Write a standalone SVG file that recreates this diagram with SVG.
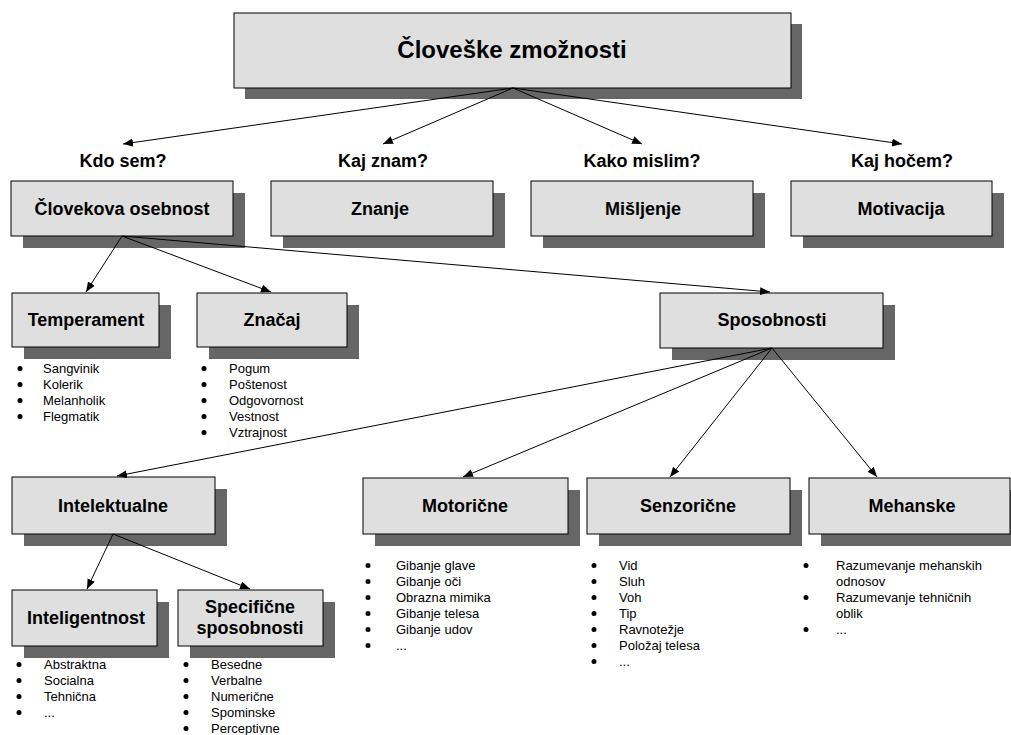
<svg xmlns="http://www.w3.org/2000/svg" width="1011" height="735" viewBox="0 0 1011 735">
  <style>
    .box { fill: #dfdfdf; stroke: #000; stroke-width: 1; }
    .shadow { fill: #666666; }
    .title { font-family: "Liberation Sans", Arial, sans-serif; font-weight: bold; font-size: 24px; text-anchor: middle; fill: #000; }
    .lbl { font-family: "Liberation Sans", Arial, sans-serif; font-weight: bold; font-size: 18px; text-anchor: middle; fill: #000; }
    .item { font-family: "Liberation Sans", Arial, sans-serif; font-size: 13px; fill: #000; }
    .dot { fill: #000; }
    .edge { stroke: #000; stroke-width: 1; fill: none; marker-end: url(#arrow); }
  </style>
  <defs>
    <marker id="arrow" markerWidth="11" markerHeight="9" refX="10" refY="4" orient="auto" markerUnits="userSpaceOnUse">
      <path d="M0,0 L10,4 L0,8 z" fill="#000"/>
    </marker>
  </defs>
  <rect width="1011" height="735" fill="#fff"/>

  <!-- question labels -->
  <g id="questions">
    <text class="lbl" x="123" y="167">Kdo sem?</text>
    <text class="lbl" x="383" y="167">Kaj znam?</text>
    <text class="lbl" x="642" y="167">Kako mislim?</text>
    <text class="lbl" x="902" y="167">Kaj hočem?</text>
  </g>

  <g id="n-zmoznosti">
    <rect class="shadow" x="245" y="24" width="557" height="75"/>
    <rect class="box" x="234" y="13" width="557" height="75"/>
    <text class="title" x="512" y="58">Človeške zmožnosti</text>
  </g>

  <g id="n-osebnost">
    <rect class="shadow" x="23" y="193" width="222" height="55"/>
    <rect class="box" x="11" y="181" width="222" height="55"/>
    <text class="lbl" x="122" y="215">Človekova osebnost</text>
  </g>
  <g id="n-znanje">
    <rect class="shadow" x="283" y="193" width="222" height="55"/>
    <rect class="box" x="271" y="181" width="222" height="55"/>
    <text class="lbl" x="380" y="215">Znanje</text>
  </g>
  <g id="n-misljenje">
    <rect class="shadow" x="543" y="193" width="222" height="55"/>
    <rect class="box" x="531" y="181" width="222" height="55"/>
    <text class="lbl" x="643" y="215">Mišljenje</text>
  </g>
  <g id="n-motivacija">
    <rect class="shadow" x="803" y="193" width="201" height="55"/>
    <rect class="box" x="791" y="181" width="201" height="55"/>
    <text class="lbl" x="901" y="215">Motivacija</text>
  </g>

  <g id="n-temperament">
    <rect class="shadow" x="24" y="305" width="147" height="54"/>
    <rect class="box" x="12" y="293" width="147" height="54"/>
    <text class="lbl" x="86" y="326">Temperament</text>
    <g class="item">
      <circle class="dot" cx="20" cy="368.5" r="2.5"/><text x="43" y="373">Sangvinik</text>
      <circle class="dot" cx="20" cy="384.5" r="2.5"/><text x="43" y="389">Kolerik</text>
      <circle class="dot" cx="20" cy="400.5" r="2.5"/><text x="43" y="405">Melanholik</text>
      <circle class="dot" cx="20" cy="416.5" r="2.5"/><text x="43" y="421">Flegmatik</text>
    </g>
  </g>

  <g id="n-znacaj">
    <rect class="shadow" x="209" y="305" width="150" height="54"/>
    <rect class="box" x="197" y="293" width="150" height="54"/>
    <text class="lbl" x="272" y="326">Značaj</text>
    <g class="item">
      <circle class="dot" cx="204" cy="368.5" r="2.5"/><text x="229" y="373">Pogum</text>
      <circle class="dot" cx="204" cy="384.5" r="2.5"/><text x="229" y="389">Poštenost</text>
      <circle class="dot" cx="204" cy="400.5" r="2.5"/><text x="229" y="405">Odgovornost</text>
      <circle class="dot" cx="204" cy="416.5" r="2.5"/><text x="229" y="421">Vestnost</text>
      <circle class="dot" cx="204" cy="432.5" r="2.5"/><text x="229" y="437">Vztrajnost</text>
    </g>
  </g>

  <g id="n-sposobnosti">
    <rect class="shadow" x="672" y="305" width="223" height="55"/>
    <rect class="box" x="660" y="293" width="223" height="55"/>
    <text class="lbl" x="772" y="326">Sposobnosti</text>
  </g>

  <g id="n-intelektualne">
    <rect class="shadow" x="24" y="489" width="203" height="57"/>
    <rect class="box" x="12" y="477" width="203" height="57"/>
    <text class="lbl" x="113" y="512">Intelektualne</text>
  </g>

  <g id="n-motoricne">
    <rect class="shadow" x="375" y="490" width="205" height="56"/>
    <rect class="box" x="363" y="478" width="205" height="56"/>
    <text class="lbl" x="465" y="512">Motorične</text>
    <g class="item">
      <circle class="dot" cx="368" cy="565.5" r="2.5"/><text x="396" y="570">Gibanje glave</text>
      <circle class="dot" cx="368" cy="581.5" r="2.5"/><text x="396" y="586">Gibanje oči</text>
      <circle class="dot" cx="368" cy="597.5" r="2.5"/><text x="396" y="602">Obrazna mimika</text>
      <circle class="dot" cx="368" cy="613.5" r="2.5"/><text x="396" y="618">Gibanje telesa</text>
      <circle class="dot" cx="368" cy="629.5" r="2.5"/><text x="396" y="634">Gibanje udov</text>
      <circle class="dot" cx="368" cy="645.5" r="2.5"/><text x="396" y="650">...</text>
    </g>
  </g>

  <g id="n-senzoricne">
    <rect class="shadow" x="599" y="490" width="203" height="56"/>
    <rect class="box" x="587" y="478" width="203" height="56"/>
    <text class="lbl" x="688" y="512">Senzorične</text>
    <g class="item">
      <circle class="dot" cx="594" cy="565.5" r="2.5"/><text x="619" y="570">Vid</text>
      <circle class="dot" cx="594" cy="581.5" r="2.5"/><text x="619" y="586">Sluh</text>
      <circle class="dot" cx="594" cy="597.5" r="2.5"/><text x="619" y="602">Voh</text>
      <circle class="dot" cx="594" cy="613.5" r="2.5"/><text x="619" y="618">Tip</text>
      <circle class="dot" cx="594" cy="629.5" r="2.5"/><text x="619" y="634">Ravnotežje</text>
      <circle class="dot" cx="594" cy="645.5" r="2.5"/><text x="619" y="650">Položaj telesa</text>
      <circle class="dot" cx="594" cy="661.5" r="2.5"/><text x="619" y="666">...</text>
    </g>
  </g>

  <g id="n-mehanske">
    <rect class="shadow" x="821" y="490" width="201" height="56"/>
    <rect class="box" x="809" y="478" width="201" height="56"/>
    <text class="lbl" x="912" y="512">Mehanske</text>
    <g class="item">
      <circle class="dot" cx="806" cy="565.5" r="2.5"/><text x="836" y="570">Razumevanje mehanskih</text>
      <text x="836" y="586">odnosov</text>
      <circle class="dot" cx="806" cy="597.5" r="2.5"/><text x="836" y="602">Razumevanje tehničnih</text>
      <text x="836" y="618">oblik</text>
      <circle class="dot" cx="806" cy="629.5" r="2.5"/><text x="836" y="634">...</text>
    </g>
  </g>

  <g id="n-inteligentnost">
    <rect class="shadow" x="24" y="602" width="145" height="56"/>
    <rect class="box" x="12" y="590" width="145" height="56"/>
    <text class="lbl" x="86" y="624">Inteligentnost</text>
    <g class="item">
      <circle class="dot" cx="19" cy="664.5" r="2.5"/><text x="44" y="669">Abstraktna</text>
      <circle class="dot" cx="19" cy="680.5" r="2.5"/><text x="44" y="685">Socialna</text>
      <circle class="dot" cx="19" cy="696.5" r="2.5"/><text x="44" y="701">Tehnična</text>
      <circle class="dot" cx="19" cy="712.5" r="2.5"/><text x="44" y="717">...</text>
    </g>
  </g>

  <g id="n-specificne">
    <rect class="shadow" x="190" y="602" width="145" height="56"/>
    <rect class="box" x="178" y="590" width="145" height="56"/>
    <text class="lbl" x="250" y="613">Specifične</text>
    <text class="lbl" x="250" y="634">sposobnosti</text>
    <g class="item">
      <circle class="dot" cx="186" cy="664.5" r="2.5"/><text x="211" y="669">Besedne</text>
      <circle class="dot" cx="186" cy="680.5" r="2.5"/><text x="211" y="685">Verbalne</text>
      <circle class="dot" cx="186" cy="696.5" r="2.5"/><text x="211" y="701">Numerične</text>
      <circle class="dot" cx="186" cy="712.5" r="2.5"/><text x="211" y="717">Spominske</text>
      <circle class="dot" cx="186" cy="728.5" r="2.5"/><text x="211" y="733">Perceptivne</text>
    </g>
  </g>

  <!-- connectors, drawn last so they run over the drop shadows -->
  <g id="connectors">
    <line class="edge" x1="513" y1="88" x2="123" y2="144"/>
    <line class="edge" x1="513" y1="88" x2="383" y2="144"/>
    <line class="edge" x1="513" y1="88" x2="642" y2="144"/>
    <line class="edge" x1="513" y1="88" x2="902" y2="144"/>
    <line class="edge" x1="122" y1="236" x2="86" y2="292"/>
    <line class="edge" x1="122" y1="236" x2="271" y2="292"/>
    <line class="edge" x1="122" y1="236" x2="770" y2="292"/>
    <line class="edge" x1="772" y1="348" x2="117" y2="476"/>
    <line class="edge" x1="772" y1="348" x2="463" y2="477"/>
    <line class="edge" x1="772" y1="348" x2="670" y2="477"/>
    <line class="edge" x1="772" y1="348" x2="877" y2="477"/>
    <line class="edge" x1="113" y1="534" x2="87" y2="589"/>
    <line class="edge" x1="113" y1="534" x2="250" y2="589"/>
  </g>
</svg>
